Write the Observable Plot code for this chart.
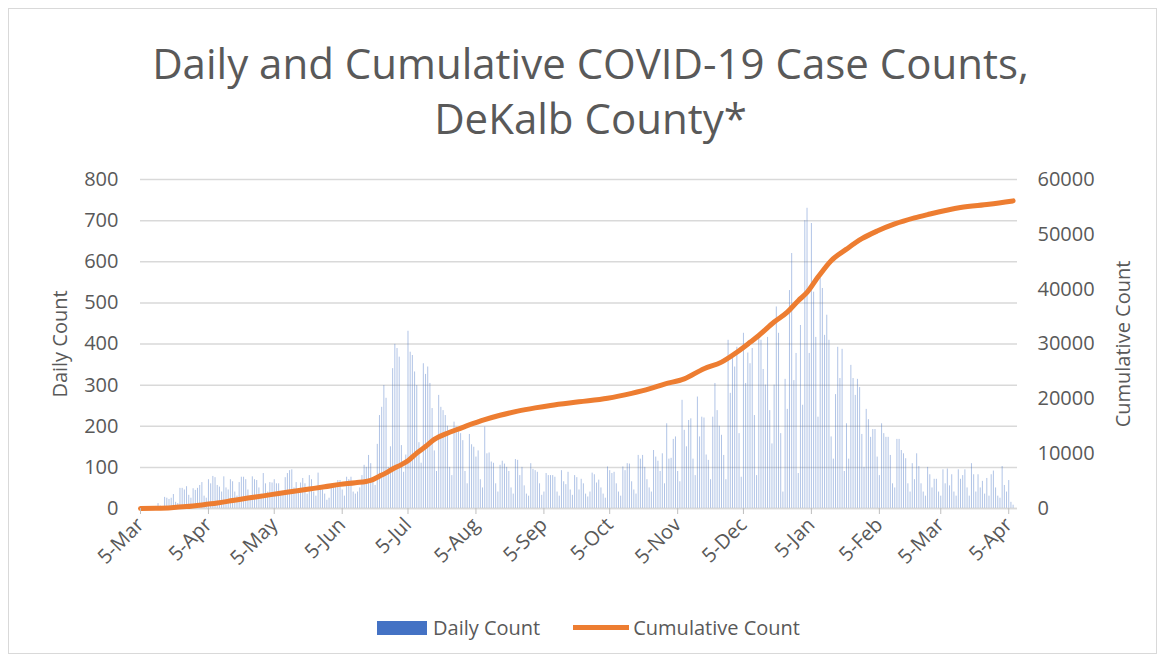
<!DOCTYPE html>
<html>
<head>
<meta charset="utf-8">
<script src="https://cdn.jsdelivr.net/npm/d3@7"></script>
<script src="https://cdn.jsdelivr.net/npm/@observablehq/plot@0.6"></script>
<style>
  html, body { margin: 0; padding: 0; background: #fff; }
  #wrap { position: relative; width: 1161px; height: 661px; overflow: hidden; font-family: "Open Sans", sans-serif; color: #595959; }
  #frame { position: absolute; left: 8px; top: 8px; width: 1149px; height: 646px; border: 1px solid #d9d9d9; box-sizing: border-box; }
  #title { position: absolute; left: 10px; top: 35px; width: 1161px; text-align: center; font-size: 42px; line-height: 55px; color: #595959; }
  #chart { position: absolute; left: 0; top: 0; }
  #legend { position: absolute; left: 377px; top: 614px; display: flex; align-items: center; font-size: 20px; color: #595959; white-space: nowrap; }
  .sw-bar { width: 50px; height: 14px; background: #4472C4; margin-right: 6px; }
  .sw-line { width: 56px; height: 5px; background: #ED7D31; margin-left: 33px; margin-right: 4px; }
</style>
</head>
<body>
<div id="wrap">
  <div id="frame"></div>
  <div id="chart"></div>
  <div id="title">Daily and Cumulative COVID-19 Case Counts,<br>DeKalb County*</div>
  <div id="legend"><div class="sw-bar"></div><span>Daily Count</span><div class="sw-line"></div><span>Cumulative Count</span></div>
</div>
<script>
// First day of the series: 5 March 2020; one value per day
const startDate = "2020-03-05";
const endDate = "2021-04-09";

// Daily case counts, one row per week
const dailyCounts = [
  0,0,1,0,1,2,3,
  5,12,6,4,27,25,22,
  25,34,15,12,49,49,45,
  53,32,25,48,44,49,56,
  63,30,25,70,60,78,75,
  56,52,40,77,50,45,70,
  65,40,30,63,76,76,70,
  45,30,77,70,68,50,35,
  85,60,40,63,62,70,60,
  60,40,35,75,85,92,94,
  50,63,40,62,73,60,35,
  80,70,40,30,86,52,45,
  35,20,25,50,50,55,68,
  68,45,30,76,70,76,40,
  35,40,50,80,105,100,129,
  109,70,56,156,226,246,299,
  268,100,150,340,399,389,368,
  153,88,130,431,380,372,332,
  299,160,110,352,326,344,304,
  243,140,90,275,246,238,226,
  200,100,80,210,198,190,182,
  165,90,60,180,155,149,125,
  140,70,50,198,133,135,113,
  110,60,40,105,115,108,100,
  90,50,35,119,117,80,100,
  55,35,30,109,95,92,88,
  60,32,40,85,80,80,80,
  76,40,30,92,65,58,88,
  45,32,80,75,45,71,60,
  35,28,40,86,82,62,69,
  50,35,25,101,92,85,88,
  60,40,30,101,92,109,108,
  65,45,35,129,120,129,100,
  70,50,40,141,125,115,90,
  133,60,206,120,122,168,174,
  90,65,263,190,150,214,218,
  120,80,271,174,222,220,130,
  117,70,222,304,238,200,178,
  129,70,409,280,368,344,392,
  182,76,426,304,378,352,389,
  226,80,421,409,338,300,416,
  238,157,300,490,426,182,40,
  314,241,530,620,311,377,85,
  445,251,700,730,377,693,526,
  416,222,560,535,421,470,409,
  174,120,277,392,316,387,90,
  206,120,348,316,275,314,294,
  180,100,241,216,173,192,192,
  125,80,206,182,173,173,129,
  60,50,168,168,141,133,121,
  60,40,109,70,133,102,60,
  40,30,100,82,50,71,71,
  40,30,94,60,96,55,82,
  40,30,94,71,80,94,50,
  30,109,82,40,82,50,66,
  35,73,30,82,91,50,30,
  25,102,56,40,68,15,8
];

// Cumulative count at these day offsets from startDate
const cumulativeDays = [0,7,14,21,28,35,42,49,56,63,70,77,84,91,98,105,109,112,115,119,122,126,130,134,141,149,157,164,172,180,187,200,213,224,232,239,248,257,265,272,278,282,289,295,300,304,309,315,322,329,336,344,353,359,374,387,398];
const cumulativeCounts = [0,50,150,350,650,1000,1450,1900,2300,2750,3150,3550,3950,4400,4700,5150,5900,6500,7200,8000,8700,10100,11300,12600,13900,15100,16200,17000,17750,18350,18800,19450,20100,21000,21800,22700,23650,25500,26700,28500,30300,31550,34000,35800,37900,39400,42200,45200,47300,49200,50600,51900,53000,53600,54900,55500,56100];

// Axis ticks
const xTickDates = ["2020-03-05","2020-04-05","2020-05-05","2020-06-05","2020-07-05","2020-08-05","2020-09-05","2020-10-05","2020-11-05","2020-12-05","2021-01-05","2021-02-05","2021-03-05","2021-04-05"];
const leftTicks = [0,100,200,300,400,500,600,700,800];
const rightTicks = [0,10000,20000,30000,40000,50000,60000];
const rightMax = 60000;
const leftMax = 800;

const t0 = new Date(startDate + "T00:00:00Z");
const dayMs = 864e5;
const dateOf = i => new Date(+t0 + i * dayMs);
const daily = dailyCounts.map((v, i) => ({date: dateOf(i), value: v}));
const cumulative = cumulativeDays.map((d, i) => ({date: dateOf(d), value: cumulativeCounts[i]}));
const ratio = rightMax / leftMax;

const chart = Plot.plot({
  width: 1161,
  height: 661,
  marginLeft: 140,
  marginRight: 144,
  marginTop: 179,
  marginBottom: 153,
  style: {fontFamily: "Open Sans, sans-serif", fontSize: "20px", color: "#595959", background: "transparent", overflow: "visible"},
  x: {type: "utc", domain: [t0, new Date(endDate + "T00:00:00Z")]},
  y: {domain: [0, leftMax]},
  marks: [
    Plot.gridY(leftTicks, {stroke: "#d9d9d9", strokeOpacity: 1, strokeWidth: 1.5}),
    Plot.ruleX(daily, {x: "date", y1: 0, y2: "value", stroke: "#4472C4", strokeWidth: 1, strokeOpacity: 0.42}),
    Plot.ruleY([0], {stroke: "#d9d9d9", strokeWidth: 1.5}),
    Plot.line(cumulative, {x: "date", y: d => d.value / ratio, stroke: "#ED7D31", strokeWidth: 5, curve: "monotone-x", strokeLinecap: "round"}),
    Plot.axisY({ticks: leftTicks, tickSize: 0, tickPadding: 22, fontSize: 20, label: "Daily Count", labelAnchor: "center", labelOffset: 88, labelArrow: "none"}),
    Plot.axisY({anchor: "right", ticks: rightTicks.map(v => v / ratio), tickSize: 0, tickPadding: 20, fontSize: 20, tickFormat: d => String(Math.round(d * ratio)), label: "Cumulative Count", labelAnchor: "center", labelOffset: 112, labelArrow: "none"}),
    Plot.axisX({ticks: xTickDates.map(s => new Date(s + "T00:00:00Z")), tickFormat: d3.utcFormat("%-d-%b"), tickRotate: -45, tickSize: 6, tickPadding: 7, stroke: "#bfbfbf", strokeOpacity: 1, fontSize: 20, label: null})
  ]
});
document.getElementById("chart").appendChild(chart);
</script>
</body>
</html>
